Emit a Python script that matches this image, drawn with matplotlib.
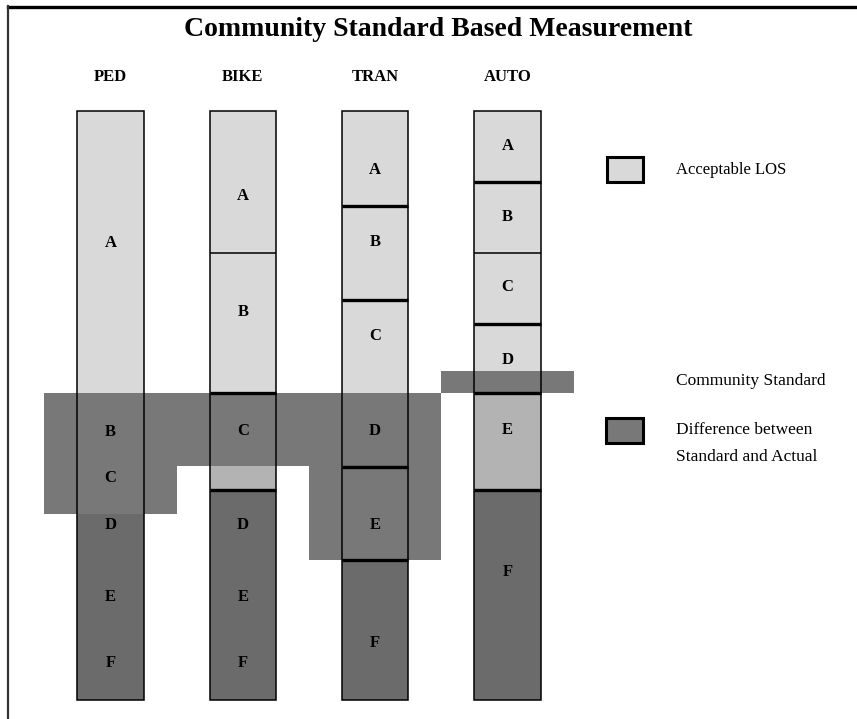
import matplotlib
matplotlib.use('Agg')
import matplotlib.pyplot as plt
from matplotlib.patches import Rectangle
from matplotlib.lines import Line2D

plt.rcParams['font.family'] = ['Liberation Serif', 'DejaVu Serif']

# level of service scale: 0 = bottom of a column, 100 = top
modes = ['PED', 'BIKE', 'TRAN', 'AUTO']
levels = ['A', 'B', 'C', 'D', 'E', 'F']

# level boundaries, top to bottom
ped_bounds = [100, 52.1, 39.7, 35.65, 23.8, 11.9, 0]
bike_bounds = [100, 75.9, 52.1, 35.65, 23.8, 11.9, 0]
tran_bounds = [100, 83.9, 67.9, 52.1, 39.6, 23.8, 0]
auto_bounds = [100, 88.0, 75.9, 63.8, 52.1, 35.65, 0]

# where each letter sits on the scale
ped_labels = [77.6, 45.5, 37.7, 29.7, 17.5, 6.3]
bike_labels = [85.6, 65.9, 45.7, 29.7, 17.5, 6.3]
tran_labels = [90.0, 77.8, 61.8, 45.7, 29.7, 9.7]
auto_labels = [94.1, 82.0, 70.1, 57.7, 45.8, 21.7]

# status of each level: ok = acceptable, part = partly acceptable, bad = unacceptable
ped_status = ['ok', 'part', 'part', 'bad', 'bad', 'bad']
bike_status = ['ok', 'ok', 'part', 'bad', 'bad', 'bad']
tran_status = ['ok', 'ok', 'ok', 'part', 'part', 'bad']
auto_status = ['ok', 'ok', 'ok', 'ok', 'part', 'bad']

# difference between community standard and actual (top, bottom)
diff_top = [52.1, 52.1, 52.1, 55.9]
diff_bottom = [31.6, 39.7, 23.8, 52.1]

bounds = [ped_bounds, bike_bounds, tran_bounds, auto_bounds]
label_pos = [ped_labels, bike_labels, tran_labels, auto_labels]
status = [ped_status, bike_status, tran_status, auto_status]

# divider line weight between levels (0 = no line)
dividers = [
    [0, 0, 0, 0, 0],
    [1.1, 2.4, 2.4, 0, 0],
    [2.4, 2.4, 0, 2.4, 2.4],
    [2.4, 1.1, 2.4, 2.4, 2.4],
]

fills = {'ok': '#d9d9d9', 'part': '#b3b3b3', 'bad': '#6b6b6b'}
band_color = '#787878'
col_w = 0.5

W, H = 857, 719
fig = plt.figure(figsize=(W / 100, H / 100), dpi=100)
ax = fig.add_axes([0, 0, 1, 1])
ax.set_xlim(-0.835, 5.642)
ax.set_ylim(-3.226, 118.85)
ax.axis('off')

x = list(range(len(modes)))

# column fills
for i in x:
    b = bounds[i]
    heights = [b[k] - b[k + 1] for k in range(len(levels))]
    ax.bar([i] * len(levels), heights, bottom=b[1:], width=col_w,
           color=[fills[s] for s in status[i]], edgecolor='none', zorder=1)

# standard vs actual band
ax.bar(x, [t - b for t, b in zip(diff_top, diff_bottom)], bottom=diff_bottom,
       width=1.0, color=band_color, edgecolor='none', zorder=2)

# column outlines and dividers
for i in x:
    b = bounds[i]
    ax.add_patch(Rectangle((i - col_w / 2, b[-1]), col_w, b[0] - b[-1],
                           fill=False, edgecolor='black', lw=1.1, zorder=3))
    for k, lw in enumerate(dividers[i]):
        if lw:
            ax.plot([i - col_w / 2, i + col_w / 2], [b[k + 1], b[k + 1]],
                    color='black', lw=lw, solid_capstyle='butt', zorder=3)
    for lvl, y in zip(levels, label_pos[i]):
        ax.text(i, y, lvl, ha='center', va='center', fontsize=12,
                fontweight='bold', zorder=4)
    ax.text(i, 105.8, modes[i], ha='center', va='center', fontsize=12,
            fontweight='bold')


def fx(px):
    return px / W


def fy(py):
    return 1 - py / H


fig.text(fx(438), fy(30), 'Community Standard Based Measurement', ha='center',
         va='center', fontsize=20, fontweight='bold')

# legend
fig.patches.append(Rectangle((fx(607), fy(182)), fx(643) - fx(607), fy(157) - fy(182),
                             transform=fig.transFigure, facecolor=fills['ok'],
                             edgecolor='black', lw=2.2))
fig.text(fx(676), fy(170), 'Acceptable LOS', ha='left', va='center', fontsize=12)
fig.text(fx(676), fy(381), 'Community Standard', ha='left', va='center', fontsize=12.5)
fig.patches.append(Rectangle((fx(606), fy(443)), fx(643) - fx(606), fy(418) - fy(443),
                             transform=fig.transFigure, facecolor=band_color,
                             edgecolor='black', lw=2.2))
fig.text(fx(676), fy(430), 'Difference between', ha='left', va='center', fontsize=12.5)
fig.text(fx(676), fy(457), 'Standard and Actual', ha='left', va='center', fontsize=12.5)

# page frame
fig.add_artist(Line2D([fx(8), 1], [fy(7), fy(7)], color='black', lw=2.4))
fig.add_artist(Line2D([fx(8), fx(8)], [fy(6), 0], color='#333333', lw=1.6))

fig.savefig('out.png', dpi=100)
